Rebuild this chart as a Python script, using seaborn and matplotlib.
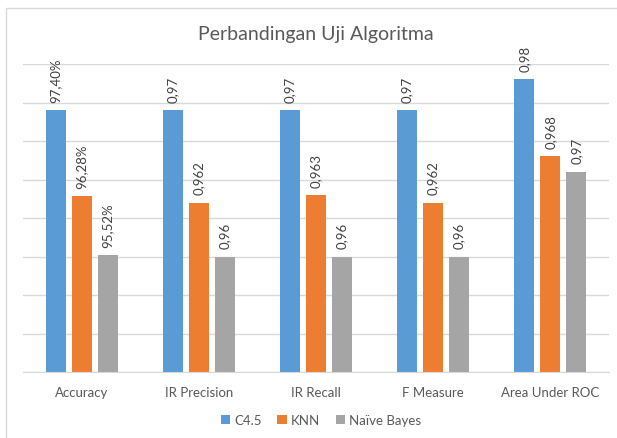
import matplotlib.pyplot as plt
import seaborn as sns
import pandas as pd
from matplotlib.patches import Rectangle

metrics = ["Accuracy", "IR Precision", "IR Recall", "F Measure", "Area Under ROC"]
algos = ["C4.5", "KNN", "Naïve Bayes"]

# bar heights (labels are rounded in the original)
c45 = [0.974, 0.974, 0.974, 0.974, 0.978]
knn = [0.9628, 0.962, 0.963, 0.962, 0.968]
nb = [0.9552, 0.955, 0.955, 0.955, 0.966]

c45_labels = ["97,40%", "0,97", "0,97", "0,97", "0,98"]
knn_labels = ["96,28%", "0,962", "0,963", "0,962", "0,968"]
nb_labels = ["95,52%", "0,96", "0,96", "0,96", "0,97"]

colors = ["#5B9BD5", "#ED7D31", "#A5A5A5"]

df = pd.DataFrame({
    "metric": metrics * 3,
    "algo": [a for a in algos for _ in metrics],
    "value": c45 + knn + nb,
})

sns.set_style("white")
plt.rcParams['font.family'] = ['Lato', 'DejaVu Sans']

fig = plt.figure(figsize=(6.17, 4.39), dpi=100)
fig.patches.append(Rectangle((6 / 617, -0.1), 1.2, 1.1 - 9 / 439, transform=fig.transFigure,
                             fill=False, edgecolor="#d9d9d9", linewidth=1))
ax = fig.add_axes([23 / 617, 1 - 373 / 439, 586 / 617, 308 / 439])

sns.barplot(data=df, x="metric", y="value", hue="algo", palette=colors,
            width=0.667, gap=0.23, linewidth=0, saturation=1, ax=ax, legend=True)

ax.set_ylim(0.94, 0.98)
ax.set_yticks([0.94 + 0.005 * i for i in range(9)])
ax.set_yticklabels([])
ax.yaxis.grid(True, color="#d9d9d9", linewidth=1)
ax.set_axisbelow(True)
for s in ["left", "right", "top"]:
    ax.spines[s].set_visible(False)
ax.spines["bottom"].set_color("#d9d9d9")
ax.tick_params(axis="both", length=0, labelsize=9.5, labelcolor="#595959", pad=10)
ax.set_xlabel("")
ax.set_ylabel("")

for cont, labs in zip(ax.containers, [c45_labels, knn_labels, nb_labels]):
    ax.bar_label(cont, labels=labs, rotation=90, padding=6, fontsize=9.5, color="#404040")

ax.set_title("Perbandingan Uji Algoritma", fontsize=14, color="#595959", pad=18)

ax.legend(loc="center", bbox_to_anchor=(0.52, 1 - 421 / 439), bbox_transform=fig.transFigure,
          ncol=3, frameon=False, handlelength=0.7, handleheight=0.7, handletextpad=0.3,
          columnspacing=1.2, fontsize=9.5, labelcolor="#595959")

fig.savefig("out.png", dpi=100)
